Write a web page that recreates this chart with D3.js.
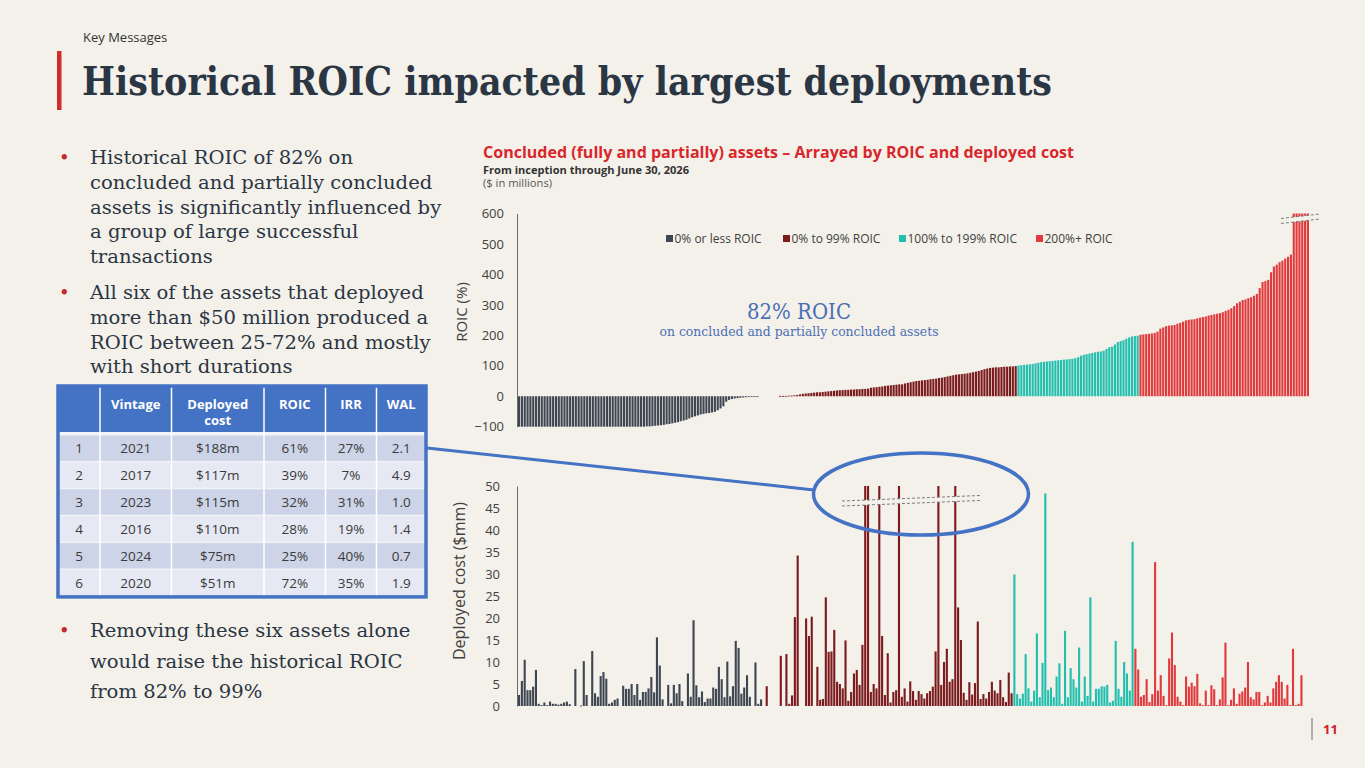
<!DOCTYPE html>
<html>
<head>
<meta charset="utf-8">
<title>Historical ROIC impacted by largest deployments</title>
<script src="https://cdn.jsdelivr.net/npm/d3@7"></script>
<style>
  html, body { margin: 0; padding: 0; background: #f4f1ea; }
  svg { display: block; }
</style>
</head>
<body>
<svg id="slide" width="1365" height="768"></svg>
<script>
/* ROIC (%) per concluded asset, sorted ascending, one array per colour band */
const roicNeg = [
  -100, -100, -100, -100, -100, -100, -100, -100, -100, -100,
  -100, -100, -100, -100, -100, -100, -100, -100, -100, -100,
  -100, -100, -100, -100, -100, -100, -100, -100, -100, -100,
  -100, -100, -100, -100, -100, -100, -100, -100, -100, -100,
  -100, -100, -100, -100, -100,
  -99, -99, -98, -97, -96, -95, -94, -92, -91, -89,
  -87, -85, -82, -80, -77, -73, -69, -66, -63, -60,
  -58, -56, -55, -53, -51, -46, -40, -33, -18, -12,
  -9, -7, -6, -5, -4, -3, -2, -1,
  -0.5, -0.3, 0, 0, 0
];
const roicLow = [
  0, 0, 0, 0, 1, 1, 1, 2, 2, 3, 4, 6,
  8, 9, 10, 11, 12, 13, 13, 14, 15, 16, 17, 18, 19, 20, 20, 21, 21, 22, 22, 23,
  23, 24, 24, 25, 28, 29, 30, 31, 32, 34, 35, 36, 37, 38, 39, 39, 42, 44, 46, 48,
  50, 51, 52, 53, 54, 56, 57, 58, 60, 61, 63, 65, 67, 69, 71, 72, 73, 74, 75, 77,
  79, 81, 83, 86, 89, 91, 93, 94, 95, 95, 96, 97, 97, 98, 98, 99
];
const roicMid = [
  101, 102, 103, 104, 105, 106, 108, 110, 112, 113,
  114, 115, 116, 117, 118, 119, 120, 121, 122, 123,
  125, 128, 133, 136, 138, 140, 142, 144, 146, 147,
  149, 155, 161, 163, 170, 178, 181, 184, 189, 193,
  196, 198, 199
];
const roicHigh = [
  202, 203, 204, 205, 206, 208, 212, 222, 226, 230,
  232, 233, 234, 238, 241, 245, 249, 251, 252, 253,
  256, 258, 260, 262, 265, 267, 269, 271, 273, 276,
  280, 284, 289, 296, 305, 310, 316, 318, 322, 325,
  330, 336, 355, 375, 378, 382, 407, 426, 432, 440,
  445, 452, 458, 465, 640, 690, 760, 840, 950, 1100
];

/* Deployed cost ($mm) for the same assets, same order */
const costNeg = [
  2.5, 5.7, 10.5, 3.6, 3.6, 4.4, 8.2, 0.5, 0.2, 0.8,
  0.2, 1.0, 0.5, 0.5, 0.3, 0.5, 0.8, 1.0, 0.4, 0,
  8.4, 0, 0.1, 10.2, 2.5, 0, 12.5, 2.9, 2.1, 6.8,
  7.7, 6.2, 0.5, 0.8, 1.4, 1.7, 0, 4.6, 3.9, 3.9,
  5.0, 2.5, 5.0, 1.4, 3.2, 3.2, 4.0, 6.6, 3.1, 15.6,
  9.2, 1.5, 0, 4.8, 0.6, 4.8, 2.9, 5.0, 1.1, 0,
  7.4, 2.1, 19.5, 4.7, 2.0, 3.3, 0.9, 1.7, 1.7, 4.2,
  3.9, 8.9, 6.1, 2.0, 10.1, 2.2, 4.5, 14.8, 13.2, 2.8,
  4.2, 7.0, 2.1, 0, 9.9, 0.5, 1.5, 0
];
const costLow = [
  4.5, 0, 0, 0, 0,
  11.4, 0, 11.8, 0.5, 2.4, 20.2, 34.2, 0, 0, 19.9,
  15.9, 20.3, 0, 8.9, 1.4, 1.6, 24.7, 12.3, 12.4, 17.3,
  5.5, 5.0, 4.0, 14.9, 1.2, 3.2, 7.4, 8.2, 4.8, 13.9,
  75, 110, 3.2, 5.0, 4.0, 115, 15.9, 2.5, 12.0, 0.8,
  3.2, 3.6, 117, 2.1, 4.0, 1.0, 5.6, 3.4, 1.4, 3.4,
  2.7, 1.7, 2.9, 3.4, 4.4, 12.4, 188, 4.8, 10.0, 13.0,
  5.5, 6.1, 51, 22.4, 15.0, 3.0, 1.4, 5.4, 2.6, 5.2,
  19.2, 1.6, 2.7, 1.7, 3.2, 5.5, 3.5, 2.9, 5.9, 2.0,
  0.9, 7.6, 2.9
];
const costMid = [
  29.9, 2.7, 1.7, 2.8, 11.8, 4.0, 1.0, 3.5, 16.5, 2.0,
  9.8, 48.3, 3.6, 4.2, 2.0, 6.7, 9.7, 0.5, 17.1, 2.0,
  8.6, 6.1, 4.2, 13.3, 1.0, 6.7, 2.3, 24.7, 1.0, 3.9,
  3.9, 4.5, 4.4, 4.8, 0.8, 1.2, 14.8, 3.9, 2.1, 10.0,
  7.4, 3.5, 37.3
];
const costHigh = [
  13.0, 8.3, 2.1, 2.5, 6.1, 0.9, 2.7, 32.7, 3.5, 7.0,
  2.3, 0.2, 10.8, 16.7, 9.3, 2.1, 1.0, 0.2, 6.7, 4.4,
  5.3, 4.5, 7.3, 0.6, 0.2, 3.5, 0.2, 4.7, 3.8, 0.2,
  1.5, 6.5, 14.4, 0.2, 1.4, 4.0, 0.5, 2.8, 3.3, 4.2,
  10.0, 2.0, 1.5, 3.2, 3.2, 0.2, 0.8, 2.3, 0.8, 4.0,
  5.5, 7.0, 5.5, 1.7, 4.8, 0.2, 13.0, 0.2, 0.5, 7.0
];

const groupNames = ["0% or less ROIC", "0% to 99% ROIC", "100% to 199% ROIC", "200%+ ROIC"];
const groupColors = ["#3e4651", "#7b1b1e", "#22bfae", "#e03a3d"];
const roicTicks = [-100, 0, 100, 200, 300, 400, 500, 600];
const costTicks = [0, 5, 10, 15, 20, 25, 30, 35, 40, 45, 50];

/* Table of the six largest deployments */
const tableHeader = ["", "Vintage", "Deployed\ncost", "ROIC", "IRR", "WAL"];
const tableRows = [
  ["1", "2021", "$188m", "61%", "27%", "2.1"],
  ["2", "2017", "$117m", "39%", "7%", "4.9"],
  ["3", "2023", "$115m", "32%", "31%", "1.0"],
  ["4", "2016", "$110m", "28%", "19%", "1.4"],
  ["5", "2024", "$75m", "25%", "40%", "0.7"],
  ["6", "2020", "$51m", "72%", "35%", "1.9"]
];

const bullet1 = ["Historical ROIC of 82% on", "concluded and partially concluded",
  "assets is significantly influenced by", "a group of large successful", "transactions"];
const bullet2 = ["All six of the assets that deployed", "more than $50 million produced a",
  "ROIC between 25-72% and mostly", "with short durations"];
const bullet3 = ["Removing these six assets alone", "would raise the historical ROIC", "from 82% to 99%"];

const SANS = "'Open Sans', 'DejaVu Sans', sans-serif";
const SERIF = "'DejaVu Serif', 'Liberation Serif', serif";
const INK = "#2b3644";

const svg = d3.select("#slide");

// squeeze a text element horizontally so it spans the given width
function fitWidth(sel, w) {
  sel.attr("textLength", w).attr("lengthAdjust", "spacingAndGlyphs");
}

/* ---------- header ---------- */
svg.append("text").attr("x", 83).attr("y", 42)
  .style("font-family", SANS).style("font-size", "13px").attr("fill", "#333")
  .text("Key Messages");

svg.append("rect").attr("x", 57).attr("y", 51).attr("width", 4.5).attr("height", 59).attr("fill", "#d42a2a");

const title = svg.append("text").attr("x", 82).attr("y", 95)
  .style("font-family", SERIF).style("font-size", "40px").style("font-weight", "bold")
  .attr("fill", INK).text("Historical ROIC impacted by largest deployments");
fitWidth(title, 970);

/* ---------- bullets ---------- */
let squeeze = null;
function drawBullet(lines, y0, pitch) {
  svg.append("text").attr("x", 59).attr("y", y0)
    .style("font-family", SERIF).style("font-size", "18px").attr("fill", "#c8262b").text("•");
  lines.forEach((line, k) => {
    const t = svg.append("text").attr("x", 90).attr("y", y0 + k * pitch)
      .style("font-family", SERIF).style("font-size", "19px").attr("fill", INK).text(line);
    const natural = t.node().getComputedTextLength();
    if (squeeze === null) squeeze = 263 / natural;   // first line sets the scale
    fitWidth(t, natural * squeeze);
  });
}
drawBullet(bullet1, 164, 24.8);
drawBullet(bullet2, 299, 24.8);
drawBullet(bullet3, 637, 30.5);

/* ---------- table ---------- */
const colEdges = [58, 100, 171.5, 264, 325.5, 376.5, 426];
const tTop = 386, headH = 46, rowTop = 435.5, rowH = 26.9;
const tBottom = rowTop + rowH * tableRows.length;
const table = svg.append("g");

table.append("rect").attr("x", colEdges[0]).attr("y", tTop)
  .attr("width", colEdges[6] - colEdges[0]).attr("height", tBottom - tTop).attr("fill", "#f2f3f8");
table.append("rect").attr("x", colEdges[0]).attr("y", tTop)
  .attr("width", colEdges[6] - colEdges[0]).attr("height", headH).attr("fill", "#4472c4");

tableRows.forEach((row, r) => {
  const y = rowTop + r * rowH;
  table.append("rect").attr("x", colEdges[0]).attr("y", y)
    .attr("width", colEdges[6] - colEdges[0]).attr("height", rowH - 1.5)
    .attr("fill", r % 2 === 0 ? "#cdd4e7" : "#e6e9f3");
  row.forEach((cell, c) => {
    table.append("text")
      .attr("x", (colEdges[c] + colEdges[c + 1]) / 2).attr("y", y + rowH / 2 - 0.5)
      .attr("dy", "0.35em").attr("text-anchor", "middle")
      .style("font-family", SANS).style("font-size", "13.5px").attr("fill", "#3a3a3a")
      .text(cell);
  });
});

tableHeader.forEach((h, c) => {
  h.split("\n").forEach((p, k) => {
    table.append("text")
      .attr("x", (colEdges[c] + colEdges[c + 1]) / 2)
      .attr("y", tTop + 18 + k * 16)
      .attr("dy", "0.35em").attr("text-anchor", "middle")
      .style("font-family", SANS).style("font-size", "13px").style("font-weight", "bold")
      .attr("fill", "#ffffff").text(p);
  });
});

colEdges.slice(1, 6).forEach(x => {
  table.append("line").attr("x1", x).attr("x2", x).attr("y1", tTop).attr("y2", tBottom)
    .attr("stroke", "#ffffff").attr("stroke-width", 1.5);
});
table.append("rect").attr("x", colEdges[0]).attr("y", tTop)
  .attr("width", colEdges[6] - colEdges[0]).attr("height", tBottom - tTop)
  .attr("fill", "none").attr("stroke", "#4472c4").attr("stroke-width", 3.5);

/* ---------- chart titles ---------- */
const cTitle = svg.append("text").attr("x", 483).attr("y", 158)
  .style("font-family", SANS).style("font-size", "16px").style("font-weight", "bold")
  .attr("fill", "#d9262c")
  .text("Concluded (fully and partially) assets \u2013 Arrayed by ROIC and deployed cost");
fitWidth(cTitle, 591);
const cSub = svg.append("text").attr("x", 483).attr("y", 173.5)
  .style("font-family", SANS).style("font-size", "10.5px").style("font-weight", "bold")
  .attr("fill", "#333").text("From inception through June 30, 2026");
fitWidth(cSub, 206);
const cUnit = svg.append("text").attr("x", 483).attr("y", 186.5)
  .style("font-family", SANS).style("font-size", "10.5px").attr("fill", "#555")
  .text("($ in millions)");
fitWidth(cUnit, 69);

/* ---------- assets ---------- */
const roicAll = [roicNeg, roicLow, roicMid, roicHigh];
const costAll = [costNeg, costLow, costMid, costHigh];
const assets = [];
roicAll.forEach((arr, g) => {
  arr.forEach((v, k) => assets.push({ g: g, roic: v, cost: costAll[g][k] }));
});
assets.forEach((d, i) => d.i = i);

const xTop = d3.scaleBand().domain(d3.range(assets.length)).range([518, 1309]).paddingInner(0.25);
const xBot = d3.scaleBand().domain(d3.range(assets.length)).range([518, 1302.5]).paddingInner(0.25);
const yTop = d3.scaleLinear().domain([-100, 600]).range([426.7, 213.5]).clamp(true);
const yBot = d3.scaleLinear().domain([0, 50]).range([706, 486]).clamp(true);

function styleAxis(g) {
  g.selectAll(".domain").attr("stroke", "#6b6b6b").attr("stroke-width", 1);
  g.selectAll("text").style("font-family", SANS).style("font-size", "13px").attr("fill", "#404040");
}

// top: ROIC bars
svg.append("g").selectAll("rect").data(assets).join("rect")
  .attr("x", d => xTop(d.i))
  .attr("width", xTop.bandwidth())
  .attr("y", d => Math.min(yTop(0), yTop(d.roic)))
  .attr("height", d => {
    const h = Math.abs(yTop(d.roic) - yTop(0));
    return d.roic === 0 ? 0 : Math.max(h, 0.8);
  })
  .attr("fill", d => groupColors[d.g]);

svg.append("g").attr("transform", "translate(517,0)")
  .call(d3.axisLeft(yTop).tickValues(roicTicks).tickSize(0).tickPadding(13).tickFormat(d3.format("d")))
  .call(styleAxis);

svg.append("text").attr("transform", "translate(467,312) rotate(-90)")
  .attr("text-anchor", "middle")
  .style("font-family", SANS).style("font-size", "15px").attr("fill", "#404040")
  .text("ROIC (%)");

// legend
const legendX = [666, 783, 899, 1036];
const legend = svg.append("g").selectAll("g").data(groupNames).join("g")
  .attr("transform", (d, k) => `translate(${legendX[k]},238.5)`);
legend.append("rect").attr("x", 0).attr("y", -3.5).attr("width", 7).attr("height", 7)
  .attr("fill", (d, k) => groupColors[k]);
legend.append("text").attr("x", 8.5).attr("dy", "0.35em")
  .style("font-family", SANS).style("font-size", "12px").attr("fill", "#404040")
  .text(d => d);

// annotation
const ann1 = svg.append("text").attr("x", 799).attr("y", 319).attr("text-anchor", "middle")
  .style("font-family", SERIF).style("font-size", "22px").attr("fill", "#4a6fb5").text("82% ROIC");
fitWidth(ann1, 104);
const ann2 = svg.append("text").attr("x", 799).attr("y", 336).attr("text-anchor", "middle")
  .style("font-family", SERIF).style("font-size", "13px").attr("fill", "#4a6fb5")
  .text("on concluded and partially concluded assets");
fitWidth(ann2, 279);

// axis break drawn across the bars that run off the scale
function drawBreak(p1, p2, gap) {
  svg.append("path")
    .attr("d", `M${p1[0]},${p1[1]} L${p2[0]},${p2[1]} L${p2[0]},${p2[1] + gap} L${p1[0]},${p1[1] + gap} Z`)
    .attr("fill", "#f4f1ea");
  [0, gap].forEach(o => {
    svg.append("line").attr("x1", p1[0]).attr("y1", p1[1] + o).attr("x2", p2[0]).attr("y2", p2[1] + o)
      .attr("stroke", "#707070").attr("stroke-width", 0.9).attr("stroke-dasharray", "3,2");
  });
}
drawBreak([1281, 218.5], [1320, 214], 5);

// bottom: deployed cost bars
svg.append("g").selectAll("rect").data(assets).join("rect")
  .attr("x", d => xBot(d.i))
  .attr("width", xBot.bandwidth())
  .attr("y", d => yBot(d.cost))
  .attr("height", d => d.cost === 0 ? 0 : Math.max(yBot(0) - yBot(d.cost), 0.8))
  .attr("fill", d => groupColors[d.g]);

svg.append("g").attr("transform", "translate(517,0)")
  .call(d3.axisLeft(yBot).tickValues(costTicks).tickSize(0).tickPadding(17))
  .call(styleAxis);

svg.append("text").attr("transform", "translate(465,581) rotate(-90)")
  .attr("text-anchor", "middle")
  .style("font-family", SANS).style("font-size", "16px").attr("fill", "#404040")
  .text("Deployed cost ($mm)");

drawBreak([842, 501], [980, 495.5], 5);

/* ---------- callout ---------- */
svg.append("line").attr("x1", 427).attr("y1", 448).attr("x2", 814).attr("y2", 490)
  .attr("stroke", "#4472c4").attr("stroke-width", 3);
svg.append("ellipse").attr("cx", 921).attr("cy", 494).attr("rx", 107.5).attr("ry", 41)
  .attr("fill", "none").attr("stroke", "#4472c4").attr("stroke-width", 3.5);

/* ---------- page number ---------- */
svg.append("line").attr("x1", 1312).attr("x2", 1312).attr("y1", 718).attr("y2", 740)
  .attr("stroke", "#6b6b6b").attr("stroke-width", 1);
svg.append("text").attr("x", 1323).attr("y", 734)
  .style("font-family", SANS).style("font-size", "13px").style("font-weight", "bold")
  .attr("fill", "#d0202a").text("11");
</script>
</body>
</html>
